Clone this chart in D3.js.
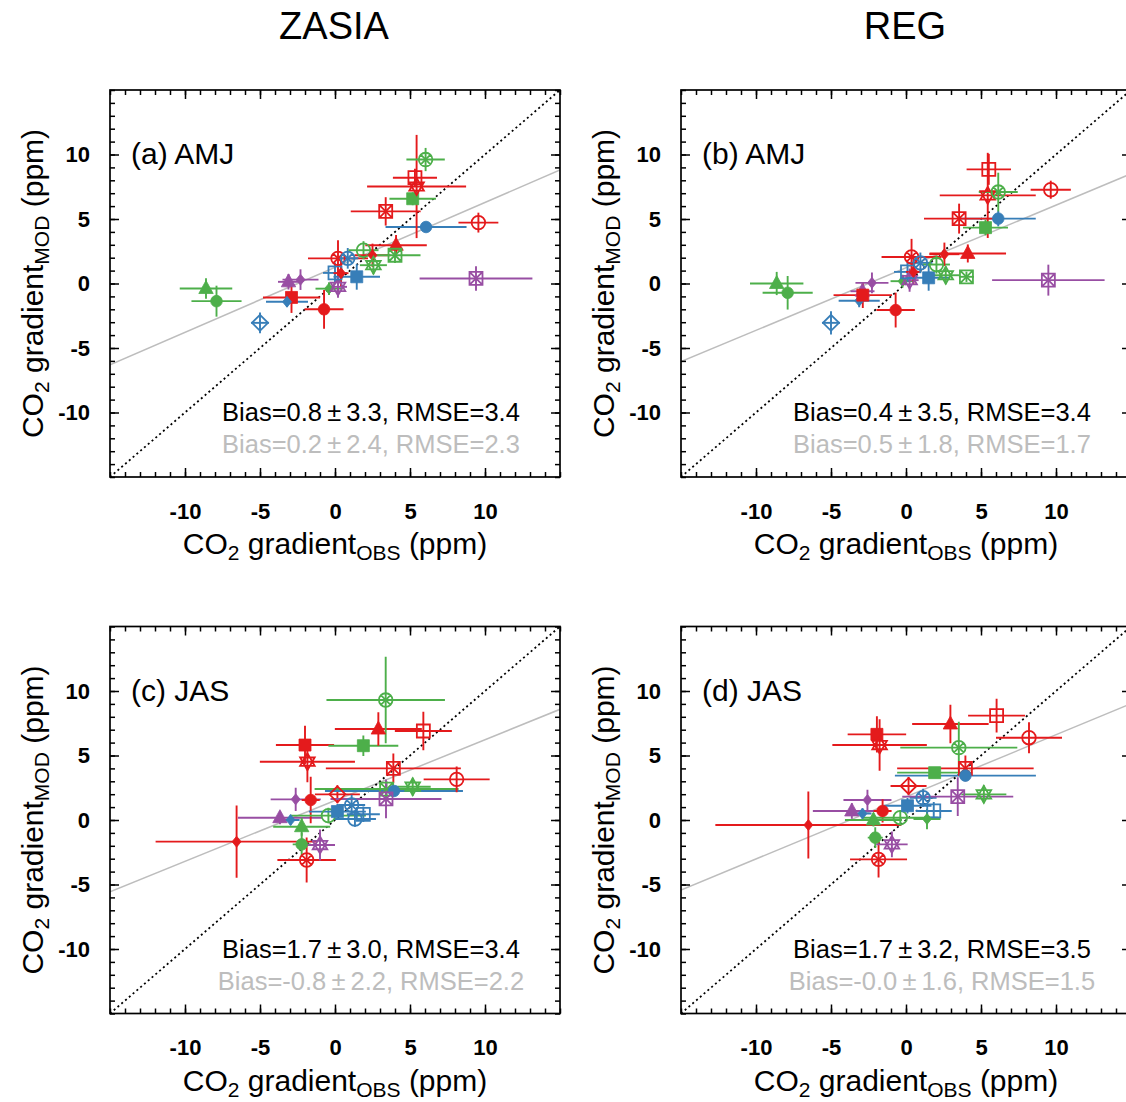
<!DOCTYPE html>
<html><head><meta charset="utf-8">
<script src="https://cdn.jsdelivr.net/npm/d3@7"></script>
<style>
body{margin:0;background:#fff;}
svg{display:block;font-family:"Liberation Sans",Arial,Helvetica,sans-serif;}
</style>
</head><body>
<svg id="chart" width="1126" height="1102"></svg>
<script>
// ---------------- data ----------------
const columnTitles = ["ZASIA", "REG"];
const panelLabels = ["(a) AMJ", "(b) AMJ", "(c) JAS", "(d) JAS"];
const xTickValues = [-10, -5, 0, 5, 10];
const yTickValues = [-10, -5, 0, 5, 10];
const axisDomain = [-15, 15];
const statsAll = ["Bias=0.8\u2009\u00b1\u20093.3, RMSE=3.4", "Bias=0.4\u2009\u00b1\u20093.5, RMSE=3.4",
                  "Bias=1.7\u2009\u00b1\u20093.0, RMSE=3.4", "Bias=1.7\u2009\u00b1\u20093.2, RMSE=3.5"];
const statsSub = ["Bias=0.2\u2009\u00b1\u20092.4, RMSE=2.3", "Bias=0.5\u2009\u00b1\u20091.8, RMSE=1.7",
                  "Bias=-0.8\u2009\u00b1\u20092.2, RMSE=2.2", "Bias=-0.0\u2009\u00b1\u20091.6, RMSE=1.5"];
// regression line: model value at obs = -15 and obs = 15
const regressionEnds = [[-6.3, 8.8], [-6.06, 8.5], [-5.56, 8.58], [-5.43, 9.02]];

// points: [obs, mod, obsErr, modErr, region group, site symbol]
const pointsA = [
  [-8.6,-0.39,1.75,0.8,"G","tri"], [-7.9,-1.37,1.67,1.2,"G","circ"], [-5.0,-3.05,0.6,0.8,"B","odia"],
  [-3.1,0.13,0.7,0.6,"P","tri"], [-2.3,0.3,1.2,0.8,"P","dia"], [-2.9,-1.08,1.9,1.2,"R","sq"],
  [-3.2,-1.42,1.4,0.4,"B","dia"], [-0.73,-2.0,1.3,1.5,"R","circ"], [-0.4,-0.4,0.9,0.5,"G","dia"],
  [0.2,-0.26,0.6,0.85,"P","hex"], [0.0,0.82,0.8,0.8,"B","osq"], [0.4,0.8,0.5,1.0,"R","dia"],
  [0.2,1.95,2.0,1.4,"R","ocircx"], [0.85,1.95,0.7,0.8,"B","ocircx"], [1.45,0.52,1.55,1.0,"B","sq"],
  [1.9,2.58,1.0,0.7,"G","ocirc"], [2.5,2.19,1.2,0.9,"R","dia"], [2.56,1.42,0.9,0.7,"G","hex"],
  [4.07,2.96,2.05,0.8,"R","tri"], [4.0,2.19,1.7,0.6,"G","osqx"], [6.07,4.38,2.7,0.4,"B","circ"],
  [9.56,4.72,1.33,0.77,"R","ocirc"], [3.38,5.59,2.33,1.1,"R","osqx"], [5.18,6.57,1.55,0.5,"G","sq"],
  [5.44,7.52,3.3,4.0,"R","hex"], [5.33,8.2,1.47,0.7,"R","osq"], [6.04,9.61,1.28,0.9,"G","ocircx"],
  [9.4,0.39,3.76,0.95,"P","osqx"]
];
const pointsB = [
  [-8.62,0.0,1.78,0.9,"G","tri"], [-7.89,-0.72,1.67,1.3,"G","circ"], [-5.0,-3.05,0.6,0.9,"B","odia"],
  [-3.12,-1.34,1.37,0.5,"B","dia"], [-2.9,-0.6,0.8,0.6,"P","tri"], [-2.88,-0.9,1.95,1.0,"R","sq"],
  [-2.27,0.05,1.1,0.8,"P","dia"], [-0.69,-2.06,1.28,1.35,"R","circ"], [-0.23,0.18,0.8,0.5,"G","dia"],
  [0.24,0.26,0.6,0.9,"P","hex"], [0.1,0.9,0.9,0.8,"B","osq"], [0.5,0.9,0.5,1.0,"R","dia"],
  [0.37,2.06,2.0,1.4,"R","ocircx"], [0.96,1.6,0.8,0.8,"B","ocircx"], [1.51,0.44,1.4,1.0,"B","sq"],
  [2.03,1.47,0.9,0.7,"G","ocirc"], [2.56,2.27,1.0,0.9,"R","dia"], [2.65,0.64,0.9,0.7,"G","hex"],
  [4.12,2.33,2.55,0.7,"R","tri"], [4.03,0.52,0.5,0.4,"G","osqx"], [6.15,5.03,2.5,0.6,"B","circ"],
  [9.65,7.27,1.34,0.7,"R","ocirc"], [3.54,5.03,2.34,1.16,"R","osqx"], [5.3,4.33,1.5,0.6,"G","sq"],
  [5.45,6.83,3.2,3.3,"R","hex"], [5.52,8.85,1.48,1.2,"R","osq"], [6.15,7.09,1.3,1.5,"G","ocircx"],
  [9.49,0.26,3.75,1.2,"P","osqx"]
];
const pointsC = [
  [-6.56,-1.68,5.4,2.8,"R","dia"], [-3.67,0.18,2.8,0.5,"P","tri"], [-2.96,0.0,0.6,0.4,"B","dia"],
  [-2.62,1.6,1.67,0.9,"P","dia"], [-2.22,-0.52,1.9,0.7,"G","tri"], [-2.22,-1.89,0.6,0.9,"G","circ"],
  [-1.89,-3.1,1.95,1.75,"R","ocircx"], [-2.0,5.81,1.94,1.5,"R","sq"], [-1.84,4.52,3.17,1.6,"R","hex"],
  [-1.62,1.55,0.6,1.8,"R","circ"], [-1.0,-1.94,1.0,1.2,"P","hex"], [-0.44,0.34,2.5,0.6,"G","ocirc"],
  [0.16,1.99,1.5,0.7,"R","odia"], [0.16,0.65,1.9,0.6,"B","sq"], [1.11,1.16,0.9,0.8,"B","ocircx"],
  [1.33,0.08,1.4,0.6,"B","ocirc"], [1.89,0.44,1.1,0.6,"B","osq"], [1.89,5.76,2.33,0.8,"G","sq"],
  [2.89,7.05,2.9,1.3,"R","tri"], [3.38,9.3,3.95,3.35,"G","ocircx"], [5.89,6.9,1.9,1.5,"R","osq"],
  [3.89,4.0,4.5,1.15,"R","osqx"], [3.44,2.4,4.8,0.6,"G","osqx"], [3.93,2.25,4.6,0.4,"B","circ"],
  [3.4,1.63,3.7,1.5,"P","osqx"], [5.18,2.58,1.2,0.7,"G","hex"], [8.11,3.15,2.2,1.0,"R","ocirc"]
];
const pointsD = [
  [-6.51,-0.39,6.2,2.6,"R","dia"], [-3.61,0.7,2.6,0.6,"P","tri"], [-2.9,0.5,0.6,0.4,"B","dia"],
  [-2.57,1.55,1.6,0.8,"P","dia"], [-1.56,0.7,0.6,0.9,"R","circ"], [-2.17,0.0,1.9,0.5,"G","tri"],
  [-2.05,-1.37,0.5,0.8,"G","circ"], [-1.83,-3.05,1.9,1.4,"R","ocircx"], [-0.94,-1.89,1.05,1.0,"P","hex"],
  [-0.38,0.18,2.5,0.6,"G","ocirc"], [0.17,2.64,1.2,0.7,"R","odia"], [0.1,1.11,1.6,0.6,"B","sq"],
  [1.14,1.73,0.9,0.7,"B","ocircx"], [1.85,0.7,1.2,0.7,"B","osq"], [1.4,0.08,0.9,0.8,"G","dia"],
  [1.91,3.67,2.5,0.4,"G","sq"], [-1.94,6.64,1.95,1.4,"R","sq"], [-1.76,5.81,3.15,2.0,"R","hex"],
  [2.96,7.44,2.55,1.5,"R","tri"], [6.04,8.09,1.9,1.3,"R","osq"], [3.52,5.61,3.9,2.0,"G","ocircx"],
  [3.96,4.0,4.55,1.0,"R","osqx"], [3.96,3.44,4.7,0.4,"B","circ"], [3.45,1.81,3.7,1.5,"P","osqx"],
  [5.19,1.99,1.5,0.7,"G","hex"], [8.2,6.38,2.2,1.2,"R","ocirc"]
];
const panelPoints = [pointsA, pointsB, pointsC, pointsD];

// ---------------- styles / layout ----------------
const groupColor = {R: "#e41a1c", G: "#4daf4a", B: "#377eb8", P: "#984ea3"};
const panelOrigins = [[110, 90], [681, 90], [110, 626.5], [681, 626.5]];
const PW = 450, PH = 387;

const svg = d3.select("#chart");
svg.append("rect").attr("width", 1126).attr("height", 1102).attr("fill", "#fff");

const x = d3.scaleLinear().domain(axisDomain).range([0, PW]);
const y = d3.scaleLinear().domain(axisDomain).range([PH, 0]);
const minorTicks = d3.range(-15, 16, 1);
const tickFmt = d => String(d);

// column titles
[0, 1].forEach(i => {
  svg.append("text").attr("x", panelOrigins[i][0] + PW / 2 - 1).attr("y", 39)
    .attr("text-anchor", "middle").attr("font-size", 38).attr("fill", "#000").text(columnTitles[i]);
});

function symbolPath(sym) {
  const p = d3.path();
  switch (sym) {
    case "tri": p.moveTo(0, -8); p.lineTo(7.2, 5); p.lineTo(-7.2, 5); p.closePath(); break;
    case "dia": p.moveTo(0, -5.5); p.lineTo(4.5, 0); p.lineTo(0, 5.5); p.lineTo(-4.5, 0); p.closePath(); break;
    case "circ": p.arc(0, 0, 5.8, 0, 2 * Math.PI); break;
    case "sq": p.rect(-6, -6, 12, 12); break;
    case "ocirc": p.moveTo(6.8, 0); p.arc(0, 0, 6.8, 0, 2 * Math.PI); break;
    case "odia": p.moveTo(0, -8); p.lineTo(8, 0); p.lineTo(0, 8); p.lineTo(-8, 0); p.closePath(); break;
    case "osq": p.rect(-6.5, -6.5, 13, 13); break;
    case "osqx": p.rect(-6.5, -6.5, 13, 13); p.moveTo(-6.5, -6.5); p.lineTo(6.5, 6.5); p.moveTo(6.5, -6.5); p.lineTo(-6.5, 6.5); break;
    case "hex":
      p.moveTo(0, -8.5); p.lineTo(7.3, 4.2); p.lineTo(-7.3, 4.2); p.closePath();
      p.moveTo(0, 8.5); p.lineTo(7.3, -4.2); p.lineTo(-7.3, -4.2); p.closePath(); break;
    case "ocircx":
      p.moveTo(6.8, 0); p.arc(0, 0, 6.8, 0, 2 * Math.PI);
      p.moveTo(-4.8, -4.8); p.lineTo(4.8, 4.8); p.moveTo(4.8, -4.8); p.lineTo(-4.8, 4.8); break;
  }
  return p.toString();
}
const filledSymbols = new Set(["tri", "dia", "circ", "sq"]);

panelOrigins.forEach((o, i) => {
  const g = svg.append("g").attr("transform", `translate(${o[0]},${o[1]})`);
  const clipId = "clip" + i;
  g.append("clipPath").attr("id", clipId).append("rect").attr("width", PW).attr("height", PH);
  const plot = g.append("g").attr("clip-path", `url(#${clipId})`);

  // regression (grey) line
  plot.append("line")
    .attr("x1", x(-15)).attr("y1", y(regressionEnds[i][0]))
    .attr("x2", x(15)).attr("y2", y(regressionEnds[i][1]))
    .attr("stroke", "#bdbdbd").attr("stroke-width", 1.5);
  // 1:1 line
  plot.append("line")
    .attr("x1", x(-15)).attr("y1", y(-15)).attr("x2", x(15)).attr("y2", y(15))
    .attr("stroke", "#000").attr("stroke-width", 1.8).attr("stroke-dasharray", "2,3");

  const pts = panelPoints[i];
  // error bars
  const bars = plot.append("g").attr("stroke-width", 1.9);
  pts.forEach(d => {
    const c = groupColor[d[4]];
    bars.append("line").attr("x1", x(d[0] - d[2])).attr("x2", x(d[0] + d[2]))
      .attr("y1", y(d[1])).attr("y2", y(d[1])).attr("stroke", c);
    bars.append("line").attr("x1", x(d[0])).attr("x2", x(d[0]))
      .attr("y1", y(d[1] - d[3])).attr("y2", y(d[1] + d[3])).attr("stroke", c);
  });
  // markers
  plot.append("g").selectAll("path").data(pts).join("path")
    .attr("transform", d => `translate(${x(d[0])},${y(d[1])})`)
    .attr("d", d => symbolPath(d[5]))
    .attr("fill", d => filledSymbols.has(d[5]) ? groupColor[d[4]] : "none")
    .attr("stroke", d => groupColor[d[4]])
    .attr("stroke-width", d => filledSymbols.has(d[5]) ? 0.8 : 1.8);

  // frame
  g.append("rect").attr("width", PW).attr("height", PH)
    .attr("fill", "none").attr("stroke", "#000").attr("stroke-width", 1.7);

  // axes: major ticks + labels, minor ticks, on all sides pointing inward
  const styleAxis = sel => { sel.select(".domain").remove(); sel.selectAll("line").attr("stroke", "#000").attr("stroke-width", 1.5); };
  g.append("g").attr("transform", `translate(0,${PH})`)
    .call(d3.axisBottom(x).tickValues(xTickValues).tickSize(-9).tickPadding(26).tickFormat(tickFmt))
    .call(styleAxis)
    .selectAll("text").attr("font-size", 22).attr("font-weight", "bold").attr("fill", "#000")
    .attr("font-family", "'Liberation Sans',Arial,sans-serif");
  g.append("g").attr("transform", `translate(0,${PH})`)
    .call(d3.axisBottom(x).tickValues(minorTicks).tickSize(-5).tickFormat("")).call(styleAxis);
  g.append("g").call(d3.axisTop(x).tickValues(xTickValues).tickSize(-9).tickFormat("")).call(styleAxis);
  g.append("g").call(d3.axisTop(x).tickValues(minorTicks).tickSize(-5).tickFormat("")).call(styleAxis);
  g.append("g")
    .call(d3.axisLeft(y).tickValues(yTickValues).tickSize(-9).tickPadding(20).tickFormat(tickFmt))
    .call(styleAxis)
    .selectAll("text").attr("font-size", 22).attr("font-weight", "bold").attr("fill", "#000")
    .attr("font-family", "'Liberation Sans',Arial,sans-serif");
  g.append("g").call(d3.axisLeft(y).tickValues(minorTicks).tickSize(-5).tickFormat("")).call(styleAxis);
  g.append("g").attr("transform", `translate(${PW},0)`)
    .call(d3.axisRight(y).tickValues(yTickValues).tickSize(-9).tickFormat("")).call(styleAxis);
  g.append("g").attr("transform", `translate(${PW},0)`)
    .call(d3.axisRight(y).tickValues(minorTicks).tickSize(-5).tickFormat("")).call(styleAxis);

  // panel label
  g.append("text").attr("x", 21).attr("y", 74).attr("font-size", 30).attr("fill", "#000").text(panelLabels[i]);
  // stats
  g.append("text").attr("x", 261).attr("y", 331).attr("text-anchor", "middle")
    .attr("font-size", 25.5).attr("fill", "#000").text(statsAll[i]);
  g.append("text").attr("x", 261).attr("y", 363).attr("text-anchor", "middle")
    .attr("font-size", 25.5).attr("fill", "#bdbdbd").text(statsSub[i]);

  // x axis title
  const xt = g.append("text").attr("x", PW / 2).attr("y", PH + 77).attr("text-anchor", "middle")
    .attr("font-size", 30).attr("fill", "#000");
  xt.append("tspan").text("CO");
  xt.append("tspan").attr("font-size", 21).attr("dy", 6).text("2");
  xt.append("tspan").attr("dy", -6).text(" gradient");
  xt.append("tspan").attr("font-size", 21).attr("dy", 6).text("OBS");
  xt.append("tspan").attr("dy", -6).text(" (ppm)");

  // y axis title
  const yt = g.append("text").attr("transform", `translate(${-67},${PH / 2}) rotate(-90)`)
    .attr("text-anchor", "middle").attr("font-size", 30).attr("fill", "#000");
  yt.append("tspan").text("CO");
  yt.append("tspan").attr("font-size", 21).attr("dy", 6).text("2");
  yt.append("tspan").attr("dy", -6).text(" gradient");
  yt.append("tspan").attr("font-size", 21).attr("dy", 6).text("MOD");
  yt.append("tspan").attr("dy", -6).text(" (ppm)");
});
</script>
</body></html>
